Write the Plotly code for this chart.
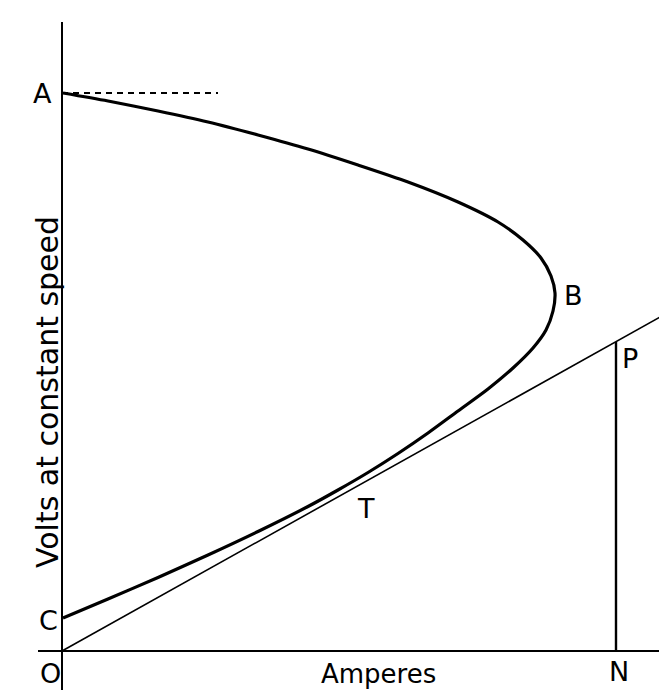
import plotly.graph_objects as go

# characteristic curve A -> B -> T -> C (amperes, volts), arbitrary units
curve_amps = [0.1, 4.6, 9.6, 14.6, 19.6, 24.6, 29.6, 34.6, 39.6, 43.6, 46.1, 47.9, 48.9,
              49.3, 49.1, 48.4, 47.1, 45.1, 42.6, 39.6, 36.6, 33.6, 30.6, 27.6, 24.6,
              19.6, 14.6, 9.6, 4.6, 0.1]
curve_volts = [55.8, 55.0, 54.0, 52.9, 51.6, 50.2, 48.6, 46.9, 44.9, 42.9, 41.1, 39.3, 37.5,
               35.8, 34.0, 32.1, 30.3, 28.3, 26.2, 24.0, 21.8, 19.75, 17.85, 16.1, 14.45,
               11.95, 9.6, 7.35, 5.2, 3.3]

# resistance line O -> P and ordinate PN
line_amps = [0, 60.9]
line_volts = [0, 34.0]
pn_amps = [55.4, 55.4]
pn_volts = [0, 30.9]

# open-circuit level at A
dash_amps = [0, 15.6]
dash_volts = [55.8, 55.8]

# axes extents
x_axis_amps = [-2.4, 61.3]
y_axis_volts = [-4.4, 62.9]

labels = ["A", "B", "C", "O", "N", "P", "T"]
label_x = [-2.0, 51.1, -1.35, -1.15, 55.7, 56.8, 30.4]
label_y = [55.8, 35.6, 3.1, -2.2, -2.0, 29.3, 14.3]

fig = go.Figure()

black = "#000000"
fig.add_trace(go.Scatter(x=x_axis_amps, y=[0, 0], mode="lines",
                         line=dict(color=black, width=2)))
fig.add_trace(go.Scatter(x=[0, 0], y=y_axis_volts, mode="lines",
                         line=dict(color=black, width=2)))
fig.add_trace(go.Scatter(x=dash_amps, y=dash_volts, mode="lines",
                         line=dict(color=black, width=2, dash="6px,5px")))
fig.add_trace(go.Scatter(x=line_amps, y=line_volts, mode="lines",
                         line=dict(color=black, width=1.6)))
fig.add_trace(go.Scatter(x=pn_amps, y=pn_volts, mode="lines",
                         line=dict(color=black, width=2.4)))
fig.add_trace(go.Scatter(x=curve_amps, y=curve_volts, mode="lines",
                         line=dict(color=black, width=3.2, shape="spline", smoothing=0.8)))

for t, x, y in zip(labels, label_x, label_y):
    fig.add_annotation(x=x, y=y, text=t, showarrow=False,
                       font=dict(family="DejaVu Sans", size=27, color=black))

fig.add_annotation(x=31.6, y=-2.3, text="Amperes", showarrow=False,
                   font=dict(family="DejaVu Sans", size=26, color=black))
fig.add_annotation(x=-1.5, y=25.9, text="Volts at constant speed", showarrow=False,
                   textangle=-90,
                   font=dict(family="DejaVu Sans", size=30, color=black))

fig.update_xaxes(range=[-5.4, 61.3], visible=False)
fig.update_yaxes(range=[-4.7, 64.3], visible=False)

fig.update_layout(
    width=667, height=690,
    margin=dict(l=0, r=0, t=0, b=0),
    paper_bgcolor="white",
    plot_bgcolor="white",
    showlegend=False,
)

fig.write_html("out.html")
